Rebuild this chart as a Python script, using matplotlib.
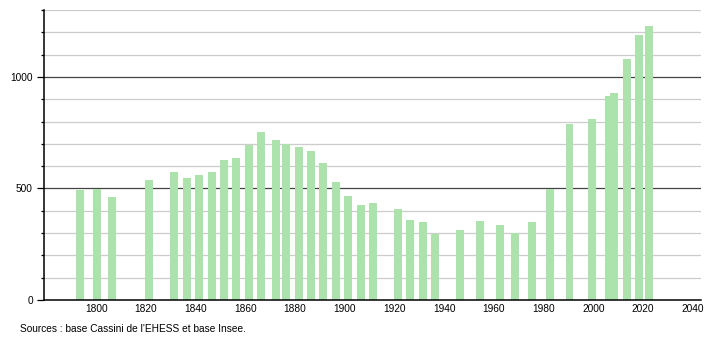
import matplotlib.pyplot as plt
from matplotlib.ticker import MultipleLocator

# recensements (annee, population)
years = [1793, 1800, 1806, 1821, 1831, 1836, 1841, 1846, 1851, 1856,
         1861, 1866, 1872, 1876, 1881, 1886, 1891, 1896, 1901, 1906,
         1911, 1921, 1926, 1931, 1936, 1946, 1954, 1962, 1968, 1975,
         1982, 1990, 1999, 2006, 2008, 2013, 2018, 2022]
population = [491, 499, 462, 539, 576, 548, 561, 576, 629, 638,
              693, 753, 718, 699, 687, 669, 612, 530, 468, 427,
              434, 409, 359, 350, 295, 314, 355, 335, 301, 350,
              498, 789, 813, 916, 929, 1082, 1187, 1230]
x_labels = [1800, 1820, 1840, 1860, 1880, 1900, 1920, 1940, 1960, 1980, 2000, 2020, 2040]
y_labels = [0, 500, 1000]
source = "Sources : base Cassini de l'EHESS et base Insee."

plt.rcParams['font.family'] = ['Liberation Sans', 'DejaVu Sans']

fig = plt.figure(figsize=(7.1, 3.4), dpi=100)
ax = fig.add_axes([44 / 710, 40 / 340, 657 / 710, 290 / 340])

# grille : fine tous les 100, foncee tous les 500
for v in range(100, 1301, 100):
    if v % 500 == 0:
        ax.axhline(v, color='#444444', lw=0.9, zorder=1)
    else:
        ax.axhline(v, color='#cccccc', lw=0.9, zorder=1)

# les barres sont legerement decalees a droite de l'annee dans l'original
ax.bar([y + 0.4 for y in years], population, width=3.2, color='#ace2ac', zorder=2)

ax.set_xlim(1779, 2043.3)
ax.set_ylim(0, 1300)
ax.set_xticks(x_labels)
ax.set_yticks(y_labels)
ax.yaxis.set_minor_locator(MultipleLocator(100))
ax.tick_params(axis='x', length=0, labelsize=7.3, pad=3)
ax.tick_params(axis='y', which='major', length=5, width=0.9, labelsize=7.3, pad=3)
ax.tick_params(axis='y', which='minor', length=2, width=0.9)

for s in ['top', 'right']:
    ax.spines[s].set_visible(False)
ax.spines['left'].set_linewidth(1.1)
ax.spines['bottom'].set_linewidth(1.1)

fig.text(20 / 710, 1 - 329 / 340, source, fontsize=7.3, va='center', ha='left')

fig.savefig('out.png', dpi=100)
